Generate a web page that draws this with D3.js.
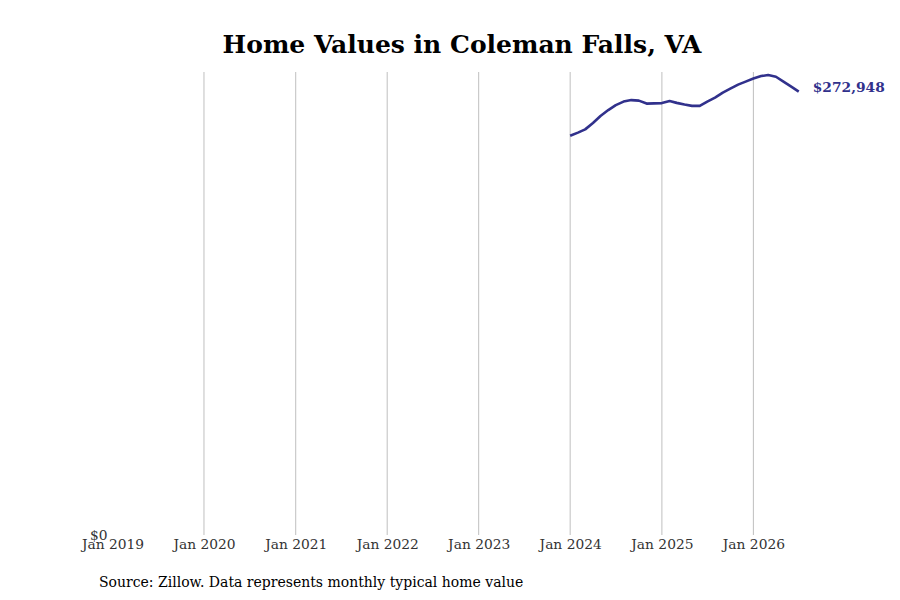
<!DOCTYPE html>
<html>
<head>
<meta charset="utf-8">
<script src="https://cdn.jsdelivr.net/npm/d3@7"></script>
<style>
  body { margin: 0; background: #fff; }
  svg { font-family: "DejaVu Serif", serif; }
</style>
</head>
<body>
<div id="chart"></div>
<script>
// Datos: valor típico mensual (Zillow), Coleman Falls, VA
const months = [
  "2024-01", "2024-02", "2024-03", "2024-04", "2024-05", "2024-06",
  "2024-07", "2024-08", "2024-09", "2024-10", "2024-11", "2024-12",
  "2025-01", "2025-02", "2025-03", "2025-04", "2025-05", "2025-06",
  "2025-07", "2025-08", "2025-09", "2025-10", "2025-11", "2025-12",
  "2026-01", "2026-02", "2026-03", "2026-04", "2026-05", "2026-06",
  "2026-07"
];
const values = [
  245750, 247700, 249680, 253560, 257870, 261560,
  264640, 266790, 267710, 267400, 265560, 265680,
  265870, 267100, 266000, 264950, 264150, 264150,
  266790, 269250, 272330, 274790, 277250, 279100,
  280950, 282490, 283100, 282060, 279100, 276020,
  272948
];
const tickYears = [2019, 2020, 2021, 2022, 2023, 2024, 2025, 2026];

const W = 900, H = 600;
const plot = { left: 112.5, right: 798.75, top: 72, bottom: 535 };

const parse = d3.timeParse("%Y-%m");
const data = months.map((m, i) => ({ date: parse(m), value: values[i] }));

const svg = d3.select("#chart").append("svg")
  .attr("width", W).attr("height", H);

// Escalas
const x = d3.scaleTime()
  .domain([new Date(2019, 0, 1), new Date(2026, 6, 1)])
  .range([plot.left, plot.right]);
const y = d3.scaleLinear()
  .domain([0, 285000])
  .range([plot.bottom, plot.top]);

// Líneas verticales de la cuadrícula
svg.append("g")
  .selectAll("line")
  .data(tickYears.slice(1))
  .join("line")
  .attr("x1", d => x(new Date(d, 0, 1)))
  .attr("x2", d => x(new Date(d, 0, 1)))
  .attr("y1", plot.top)
  .attr("y2", plot.bottom)
  .attr("stroke", "#bfbfbf")
  .attr("stroke-width", 1);

// Eje X
const xAxis = svg.append("g")
  .attr("transform", `translate(0,${plot.bottom})`)
  .call(d3.axisBottom(x)
    .tickValues(tickYears.map(yr => new Date(yr, 0, 1)))
    .tickFormat(d3.timeFormat("Jan %Y"))
    .tickSize(0)
    .tickPadding(4));
xAxis.select(".domain").remove();
xAxis.selectAll("text")
  .attr("font-family", "DejaVu Serif, serif")
  .attr("font-size", 13.8)
  .attr("fill", "#333");

// Eje Y (solo $0)
const yAxis = svg.append("g")
  .attr("transform", `translate(${plot.left - 5},0)`)
  .call(d3.axisLeft(y).tickValues([0]).tickFormat(d => "$" + d3.format(",")(d)).tickSize(0).tickPadding(0));
yAxis.select(".domain").remove();
yAxis.selectAll("text")
  .attr("font-family", "DejaVu Serif, serif")
  .attr("font-size", 13.8)
  .attr("fill", "#333");

// Línea
const line = d3.line()
  .x(d => x(d.date))
  .y(d => y(d.value));

svg.append("path")
  .datum(data)
  .attr("fill", "none")
  .attr("stroke", "#31318c")
  .attr("stroke-width", 2.6)
  .attr("stroke-linejoin", "round")
  .attr("d", line);

// Etiqueta del último valor
const last = data[data.length - 1];
svg.append("text")
  .attr("x", x(last.date) + 14)
  .attr("y", y(last.value) - 3.5)
  .attr("dominant-baseline", "middle")
  .attr("font-size", 13.8)
  .attr("font-weight", "bold")
  .attr("fill", "#31318c")
  .text("$" + d3.format(",")(last.value));

// Título
svg.append("text")
  .attr("x", 462)
  .attr("y", 53)
  .attr("text-anchor", "middle")
  .attr("font-size", 25)
  .attr("font-weight", "bold")
  .attr("fill", "#000")
  .text("Home Values in Coleman Falls, VA");

// Fuente
svg.append("text")
  .attr("x", 99)
  .attr("y", 587)
  .attr("font-size", 14)
  .attr("fill", "#000")
  .text("Source: Zillow. Data represents monthly typical home value");
</script>
</body>
</html>
